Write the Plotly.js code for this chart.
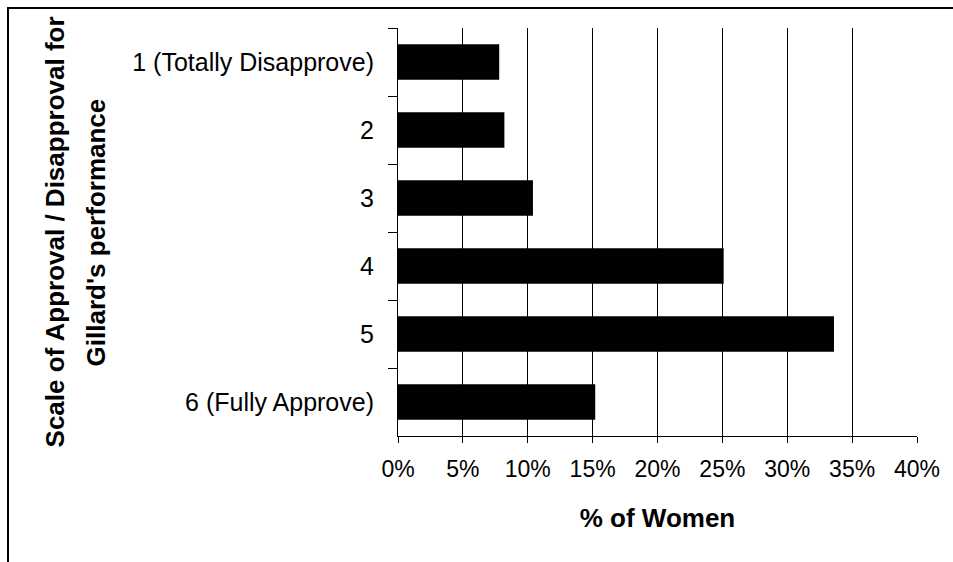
<!DOCTYPE html>
<html>
<head>
<meta charset="utf-8">
<script src="https://cdn.plot.ly/plotly-3.0.1.min.js"></script>
<style>
html,body{margin:0;padding:0;background:#fff;overflow:hidden;}
#wrap{position:relative;width:953px;height:562px;}
#chart{width:953px;height:562px;}
#frame{position:absolute;left:7px;top:7px;width:1000px;height:1000px;border-top:2px solid #000;border-left:2px solid #000;pointer-events:none;box-sizing:border-box;}
</style>
</head>
<body>
<div id="wrap"><div id="chart"></div><div id="frame"></div></div>
<script>
const categories = ["1 (Totally Disapprove)", "2", "3", "4", "5", "6 (Fully Approve)"];
const percentWomen = [7.8, 8.2, 10.4, 25.1, 33.6, 15.2];
const xTickValues = [0, 5, 10, 15, 20, 25, 30, 35, 40];
const xTickLabels = ["0%", "5%", "10%", "15%", "20%", "25%", "30%", "35%", "40%"];
const xTitle = "% of Women";
const yTitleLines = ["Scale of Approval / Disapproval for", "Gillard's performance"];

const tickFont = {family: "Liberation Sans, Arial, sans-serif", size: 25, color: "#000"};
const titleFont = {family: "Liberation Sans, Arial, sans-serif", size: 26, color: "#000", weight: "bold"};

const data = [{
  type: "bar",
  orientation: "h",
  y: categories,
  x: percentWomen,
  marker: {color: "#000", line: {width: 0}},
  hoverinfo: "skip"
}];

// y-axis title drawn as two rotated lines (paper coordinates relative to plot area)
const yTitleX = [-0.66, -0.581];
const annotations = yTitleLines.map((t, i) => ({
  text: t, xref: "paper", yref: "paper", x: yTitleX[i], y: 0.5,
  xanchor: "center", yanchor: "middle", textangle: -90,
  showarrow: false, font: titleFont
}));

const layout = {
  width: 953, height: 562,
  margin: {l: 398, r: 36, t: 28, b: 126, pad: 0},
  paper_bgcolor: "#fff", plot_bgcolor: "#fff",
  showlegend: false,
  bargap: 0.48,
  annotations: annotations,
  xaxis: {
    range: [0, 40],
    tickvals: xTickValues,
    ticktext: xTickLabels,
    showgrid: true, gridcolor: "#000", gridwidth: 1,
    zeroline: false,
    showline: true, linecolor: "#000", linewidth: 1,
    ticks: "outside", ticklen: 6, tickcolor: "#000", tickwidth: 1,
    tickfont: {family: tickFont.family, size: 23, color: "#000"},
    ticklabelstandoff: 6,
    title: {text: xTitle, font: titleFont, standoff: 28},
    automargin: false,
    fixedrange: true
  },
  yaxis: {
    type: "category",
    autorange: "reversed",
    showgrid: false,
    zeroline: false,
    showline: true, linecolor: "#000", linewidth: 1,
    ticks: "outside", ticklen: 9, tickcolor: "#000", tickwidth: 1,
    tickson: "boundaries",
    tickfont: tickFont,
    ticklabelstandoff: 18,
    automargin: false,
    fixedrange: true
  }
};

Plotly.newPlot("chart", data, layout, {displayModeBar: false, staticPlot: true});
</script>
</body>
</html>
